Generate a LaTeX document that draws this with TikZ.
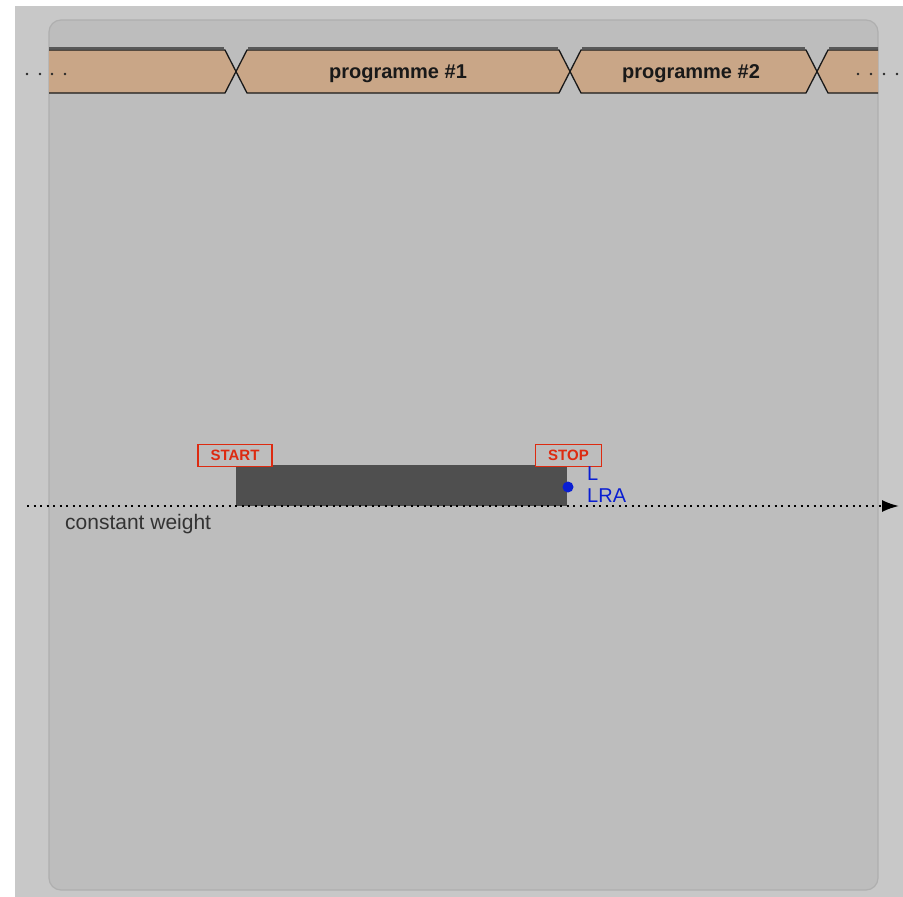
\documentclass[tikz,border=0pt]{standalone}
\usepackage{fontspec}
\setmainfont{Liberation Sans}
\usepackage{xcolor}
\usepackage{tikz}
\usetikzlibrary{arrows.meta, positioning, calc}
\definecolor{fundo}{HTML}{C8C8C8}
\definecolor{painel}{HTML}{BDBDBD}
\definecolor{painelb}{HTML}{AFAFAF}
\definecolor{tan}{HTML}{C9A687}
\definecolor{bloco}{HTML}{4F4F4F}
\definecolor{vermelho}{HTML}{DD2A10}
\definecolor{azul}{HTML}{0A1ED2}
\tikzset{
    prog/.style   = {draw=black!90, fill=tan, line width=1.3pt, line join=miter},
    progtxt/.style= {font=\fontsize{20}{24}\selectfont\bfseries, text=black!90, inner sep=0pt, anchor=base},
    tag/.style    = {draw=vermelho, line width=1.4pt, text=vermelho, fill=painel,
                     font=\fontsize{15}{15}\selectfont\bfseries, inner sep=0pt,
                     minimum height=22pt},
    axis/.style   = {line width=2pt, dash pattern=on 2pt off 4.5pt,
                     -{Latex[length=17pt, width=12pt]}},
    meas/.style   = {font=\fontsize{20}{24}\selectfont, text=azul, inner sep=0pt, anchor=base west},
    note/.style   = {font=\fontsize{21}{25}\selectfont, text=black!80, inner sep=0pt, anchor=base west},
}

\begin{document}
\begin{tikzpicture}[x=1pt, y=-1pt]
        \useasboundingbox (0,0) rectangle (903,897);
        \fill[white] (0,0) rectangle (903,897);
        \fill[fundo] (15,6) rectangle (903,897);
        \draw[painelb, fill=painel, line width=1.2pt, rounded corners=12pt] (49,20) rectangle (878,890);
        % faixa dos programas
        \begin{scope}
            \clip (49,30) rectangle (878,110);
            \foreach \a/\b in {-120/236, 236/570, 570/817, 817/1100} {
                \draw[prog] (\a,71.5) -- (\a+11,50) -- (\b-11,50) -- (\b,71.5)
                    -- (\b-11,93) -- (\a+11,93) -- cycle;
                \draw[black!65, line width=2.5pt] (\a+12,48.2) -- (\b-12,48.2);
            }
        \end{scope}
        \node[progtxt] (p1) at (398,78) {programme \#1};
        \node[progtxt] (p2) at (691,78) {programme \#2};
        \foreach \x in {27,40,52,65,858,871,884,897} \fill[black!85] (\x,74) circle (1.3);
        % sinal e medida
        \node[fill=bloco, inner sep=0pt, minimum width=331pt, minimum height=41pt,
              anchor=south west] (sig) at (236,506) {};
        \node[tag, minimum width=74pt] (start) at (235,455.5) {START};
        \node[tag, minimum width=66pt] (stop) at (568.5,455.5) {STOP};
        \coordinate (ax0) at (27,506);
        \coordinate (ax1) at (899,506);
        \draw[axis] (ax0) -- (ax1);
        \fill[azul] (568,487) circle (5.5);
        \node[meas] (lk) at (587,480) {L};
        \node[meas] (lra) at (587,502) {LRA};
        \node[note] (cw) at (65,529) {constant weight};
    \end{tikzpicture}
\end{document}
